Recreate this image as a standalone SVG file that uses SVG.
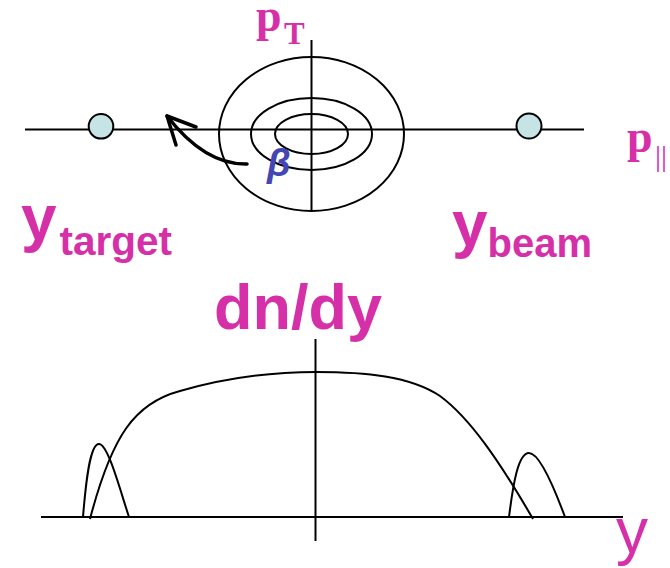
<svg xmlns="http://www.w3.org/2000/svg" width="670" height="568" viewBox="0 0 670 568">
<style>
.ln{fill:none;stroke:#000;stroke-width:2}
.arw{fill:none;stroke:#000;stroke-width:3.5;stroke-linecap:round;stroke-linejoin:round}
.dot{fill:#c6e4e6;stroke:#000;stroke-width:2}
.mag{fill:#d630a8}
.sans{font-family:"Liberation Sans",Arial,sans-serif}
.serif{font-family:"Liberation Serif","Times New Roman",serif}
</style>
<rect width="670" height="568" fill="#fff"/>
<g id="connectors">
<line class="ln" x1="25" y1="129.5" x2="584" y2="129.5"/>
<line class="ln" x1="311.5" y1="40" x2="311.5" y2="211"/>
<path class="arw" d="M247,164 Q205,165 167,116"/>
<polyline class="arw" points="196,127 167,116 176,145"/>
<line class="ln" x1="41" y1="517" x2="623" y2="517"/>
<line class="ln" x1="315.5" y1="339" x2="315.5" y2="541"/>
</g>
<g id="contours">
<ellipse class="ln" cx="311.5" cy="134" rx="92.5" ry="77"/>
<ellipse class="ln" cx="311.5" cy="134" rx="60.5" ry="36"/>
<ellipse class="ln" cx="311.5" cy="134" rx="36.5" ry="20"/>
</g>
<g id="target-dot"><circle class="dot" cx="101" cy="126.3" r="12.3"/></g>
<g id="beam-dot"><circle class="dot" cx="529" cy="126" r="12.5"/></g>
<g id="labels">
<text class="serif mag" x="256" y="31" font-size="46" font-weight="bold">p</text>
<text class="serif mag" x="284" y="43.5" font-size="31" font-weight="bold">T</text>
<text class="serif mag" x="627" y="151.5" font-size="46" font-weight="bold">p</text>
<text class="serif mag" x="655" y="165.5" font-size="30">||</text>
<text class="sans" x="267" y="175.5" font-size="38" font-weight="bold" font-style="italic" fill="#4446b4">β</text>
<text class="sans mag" x="21" y="240" font-size="64" font-weight="bold">y</text>
<text class="sans mag" x="59.5" y="255" font-size="40.5" font-weight="bold">target</text>
<text class="sans mag" x="452" y="246" font-size="64" font-weight="bold">y</text>
<text class="sans mag" x="487.5" y="256.7" font-size="40" font-weight="bold">beam</text>
<text class="sans mag" x="214" y="329" font-size="63" font-weight="bold">dn/dy</text>
<text class="sans mag" x="616" y="553" font-size="64">y</text>
</g>
<g id="curves">
<path class="ln" d="M90,519 C112,435 135,403 180,391 C225,378 270,372 316,372 C365,372 410,376 440,396 C470,418 500,462 533,519"/>
<path class="ln" d="M83,517 C86,480 90,444 99,444 C108,444 120,490 129,517"/>
<path class="ln" d="M509,517 C513,485 518,453 529,453 C540,453 555,490 565,517"/>
</g>
</svg>
